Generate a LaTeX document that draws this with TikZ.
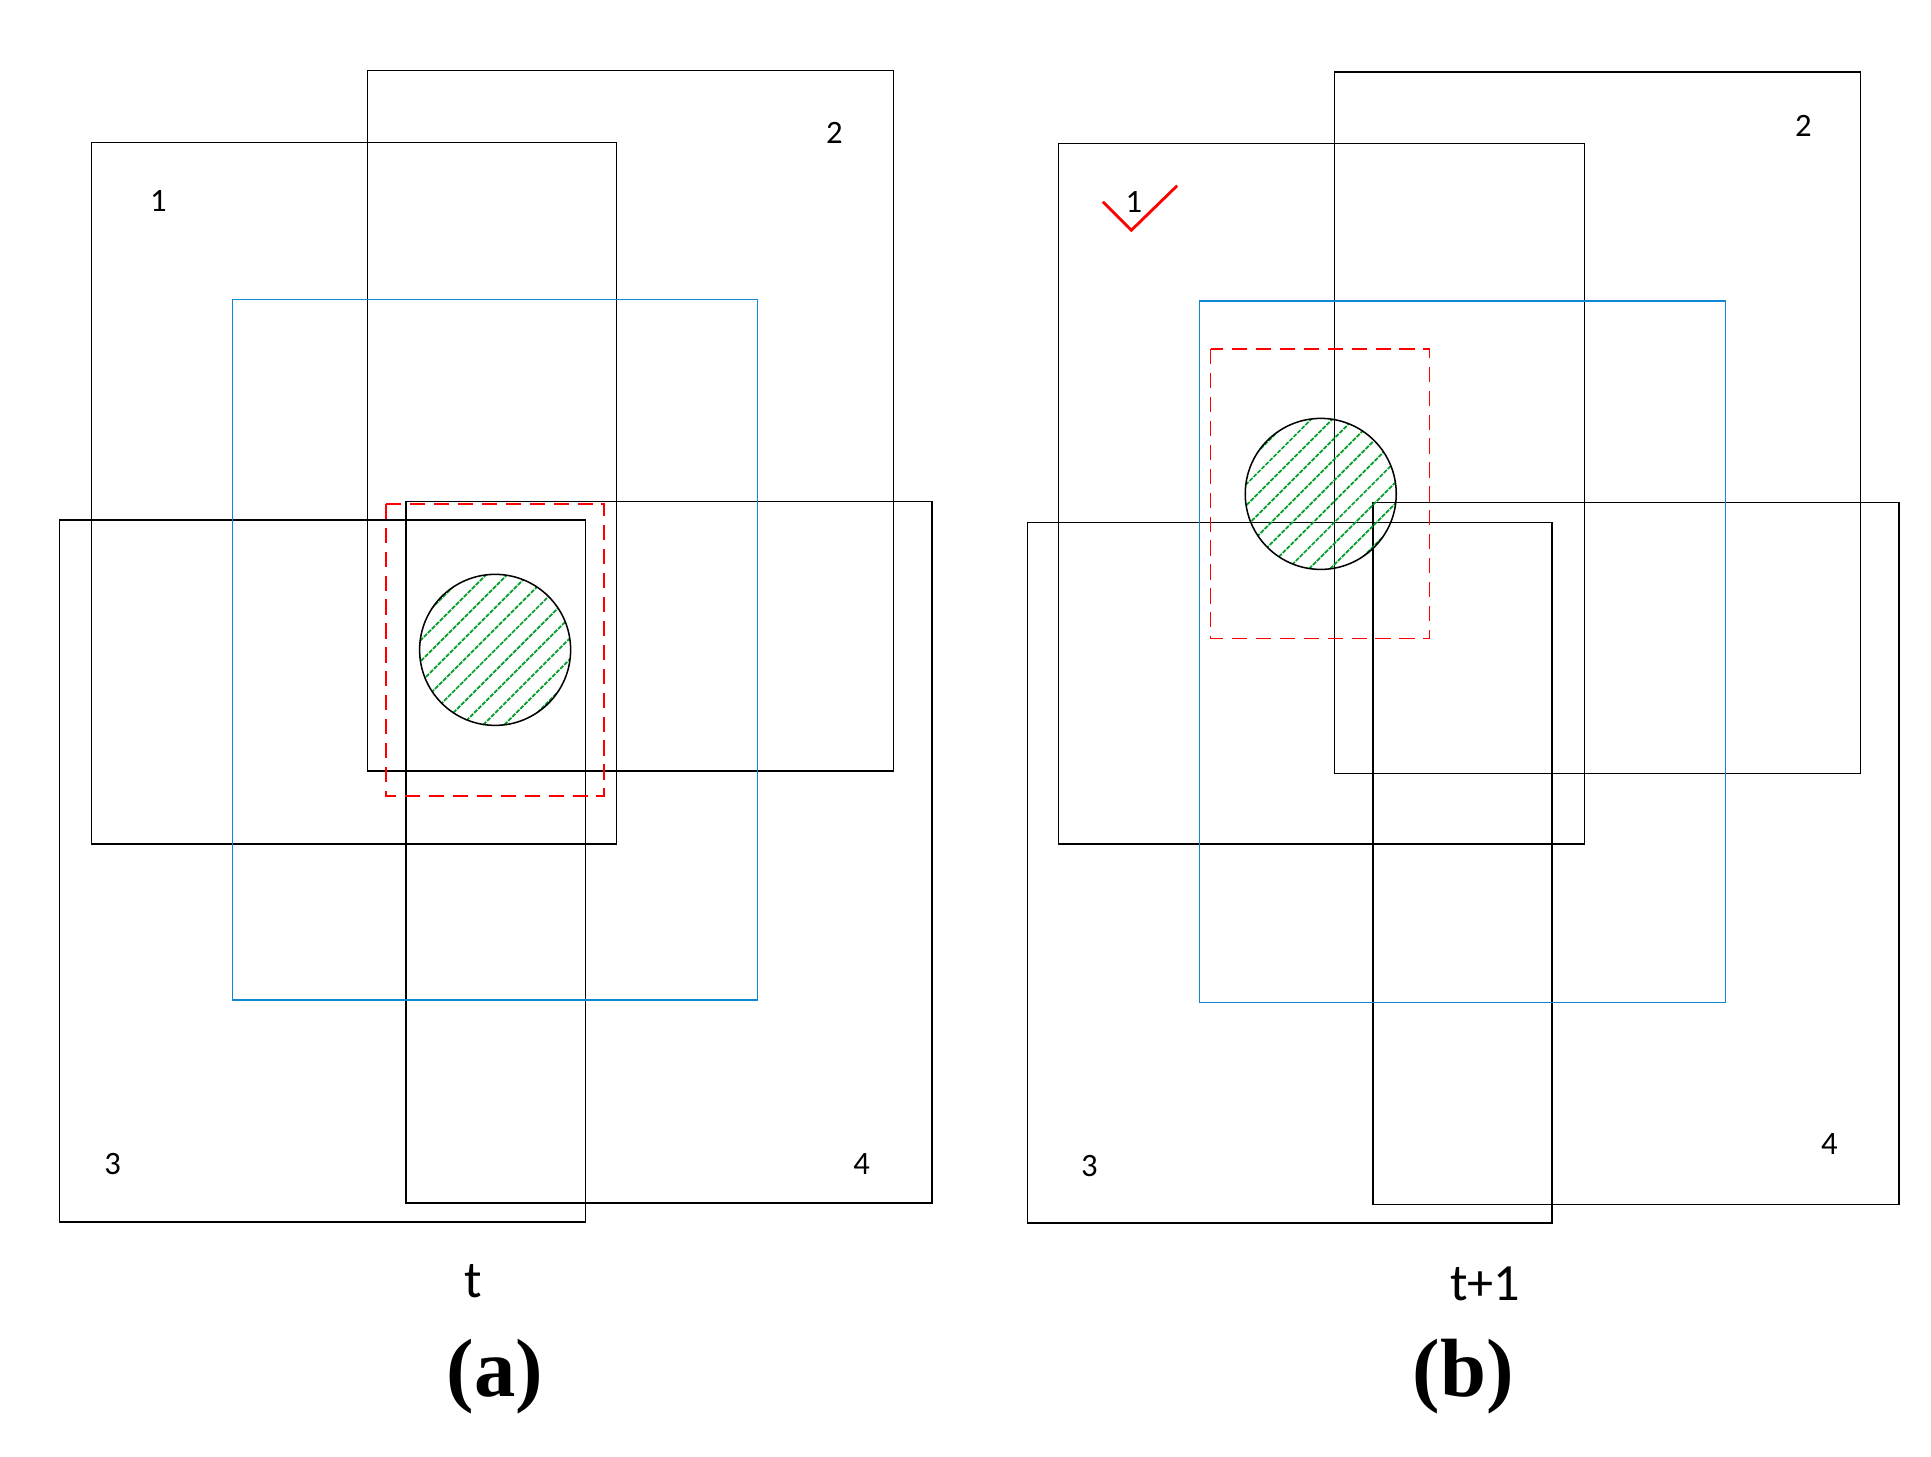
\documentclass[tikz,border=0pt]{standalone}
\usepackage{fontspec}
\setmainfont{Carlito}
\newfontfamily\serifb{Liberation Serif}
\begin{document}
\begin{tikzpicture}[x=0.02cm,y=-0.02cm,
  box/.style={draw=black,line width=0.7pt},
  bluebox/.style={draw=cyan!70!blue,line width=0.7pt},
  reddash/.style={draw=red,dash pattern=on 7pt off 4pt,line width=0.7pt},
  lab/.style={font=\fontsize{15}{15}\selectfont},
  captext/.style={font=\fontsize{24}{24}\selectfont},
  sub/.style={font=\serifb\bfseries\fontsize{38}{38}\selectfont}]
\useasboundingbox (0,0) rectangle (1560,1177);
\newcommand\hatchcirc[3]{%
  \begin{scope}
  \clip (#1,#2) circle (#3);
  \foreach \k in {-153,-136,...,153}{\draw[green!55!black!85!cyan,line width=0.8pt,dash pattern=on 2pt off 0.6pt] (#1+\k-80,#2+80) -- (#1+\k+80,#2-80);}
  \end{scope}
  \draw[line width=0.7pt] (#1,#2) circle (#3);}
% panel a
\draw[box] (74,115) rectangle (498,682);
\draw[box] (297,57) rectangle (722,623);
\draw[box] (48,420) rectangle (473,987);
\draw[box] (328,405) rectangle (753,972);
\draw[bluebox] (188,242) rectangle (612,808);
\draw[reddash] (312,407) rectangle (488,643);
\hatchcirc{400}{525}{61}
\node[lab] (a1) at (128,162) {1};
\node[lab] (a2) at (674,107) {2};
\node[lab] (a3) at (91,940) {3};
\node[lab] (a4) at (696,940) {4};
\node[captext] (at) at (382,1035) {t};
\node[sub] (ac) at (400,1112) {(a)};
% panel b
\draw[box] (855,116) rectangle (1280,682);
\draw[box] (1078,58) rectangle (1503,625);
\draw[box] (830,422) rectangle (1254,988);
\draw[box] (1109,406) rectangle (1534,973);
\draw[bluebox] (969,243) rectangle (1394,810);
\draw[reddash] (978,282) rectangle (1155,516);
\hatchcirc{1067}{399}{61}
\node[lab] (b1) at (916,163) {1};
\node[lab] (b2) at (1457,102) {2};
\node[lab] (b3) at (880,942) {3};
\node[lab] (b4) at (1478,924) {4};
\draw[red,line width=1.3pt] (891,163) -- (914,186) -- (951,150);
\node[captext] (bt) at (1200,1037) {t+1};
\node[sub] (bc) at (1182,1112) {(b)};
\end{tikzpicture}
\end{document}
